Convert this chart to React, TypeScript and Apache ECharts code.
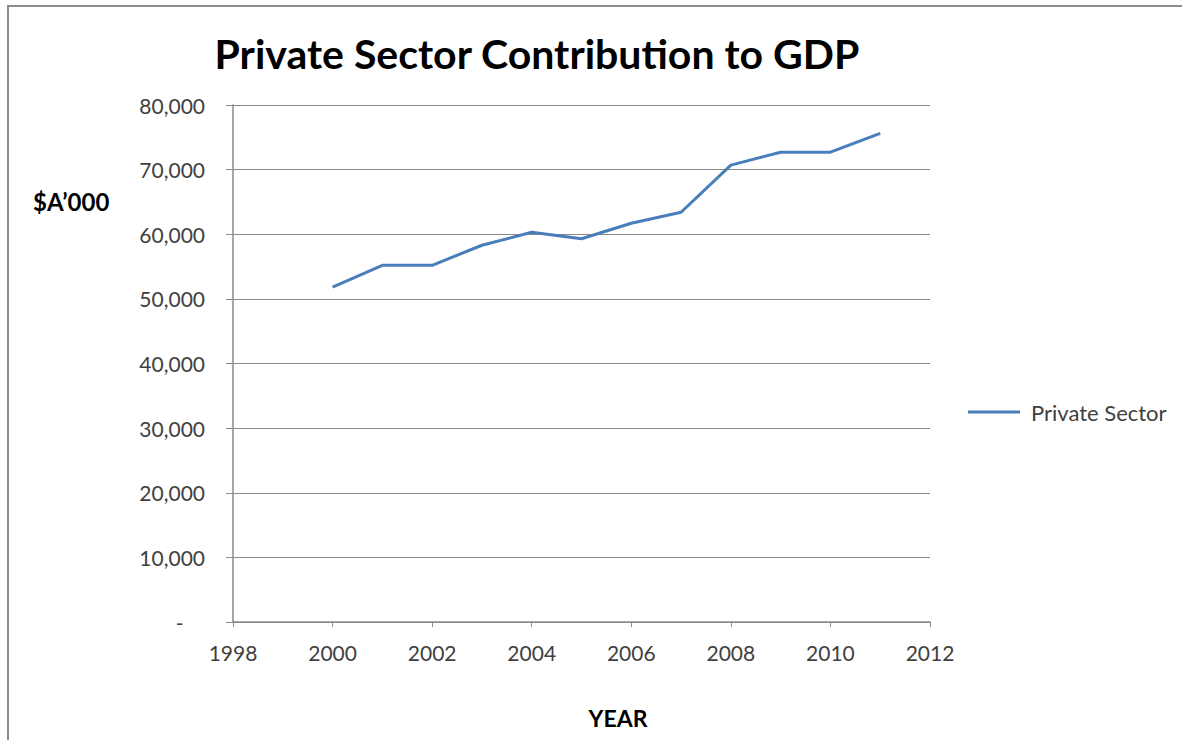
import React, { useEffect, useRef } from "react";
import * as echarts from "echarts";

const years = [2000, 2001, 2002, 2003, 2004, 2005, 2006, 2007, 2008, 2009, 2010, 2011];
const privateSector = [51800, 55200, 55200, 58300, 60300, 59300, 61700, 63400, 70700, 72700, 72700, 75600];
const seriesName = "Private Sector";
const titleText = "Private Sector Contribution to GDP";
const yAxisTitle = "$A\u2019000";
const xAxisTitle = "YEAR";

const FONT = "Lato, 'Open Sans', sans-serif";

export default function App() {
  const ref = useRef<HTMLDivElement>(null);
  useEffect(() => {
    if (!ref.current) return;
    const chart = echarts.init(ref.current, undefined, { renderer: "svg" });
    chart.setOption({
      animation: false,
      backgroundColor: "#ffffff",
      textStyle: { fontFamily: FONT },
      grid: { left: 233, right: 252, top: 105, bottom: 118, containLabel: false },
      xAxis: {
        type: "value",
        min: 1998,
        max: 2012,
        interval: 2,
        axisLine: { show: true, lineStyle: { color: "#8a8a8a", width: 1.5 } },
        axisTick: { show: true, length: 5, lineStyle: { color: "#8a8a8a" } },
        splitLine: { show: false },
        axisLabel: { color: "#404040", fontSize: 21, margin: 20, fontFamily: FONT, formatter: (v: number) => String(v) },
      },
      yAxis: {
        type: "value",
        min: 0,
        max: 80000,
        interval: 10000,
        axisLine: { show: true, lineStyle: { color: "#8a8a8a", width: 1.5 } },
        axisTick: { show: true, length: 7, lineStyle: { color: "#8a8a8a" } },
        splitLine: { show: true, lineStyle: { color: "#8a8a8a", width: 1 } },
        axisLabel: {
          color: "#404040",
          fontSize: 21,
          margin: 28,
          fontFamily: FONT,
          formatter: (v: number) => (v === 0 ? "-\u00a0\u00a0\u00a0\u00a0" : v.toLocaleString("en-US")),
        },
      },
      legend: {
        show: true,
        left: 963,
        top: 396,
        orient: "vertical",
        icon: "rect",
        itemWidth: 52,
        itemHeight: 3,
        itemGap: 10,
        textStyle: { color: "#404040", fontSize: 22, fontFamily: FONT, padding: [0, 0, 0, 6] },
        data: [seriesName],
      },
      series: [
        {
          name: seriesName,
          type: "line",
          data: years.map((y, i) => [y, privateSector[i]]),
          symbol: "none",
          lineStyle: { color: "#4a7ebb", width: 3 },
          itemStyle: { color: "#4a7ebb" },
        },
      ],
      graphic: [
        {
          type: "rect",
          shape: { x: 8, y: 6, width: 1300, height: 900 },
          style: { fill: "none", stroke: "#8c8c8c", lineWidth: 2 },
          silent: true,
        },
        {
          type: "text",
          x: 537,
          y: 53,
          style: {
            text: titleText,
            fontSize: 41,
            fontWeight: "bold",
            fontFamily: FONT,
            fill: "#000000",
            align: "center",
            verticalAlign: "middle",
          },
        },
        {
          type: "text",
          x: 33,
          y: 201,
          style: {
            text: yAxisTitle,
            fontSize: 24,
            fontWeight: "bold",
            fontFamily: FONT,
            fill: "#000000",
            align: "left",
            verticalAlign: "middle",
          },
        },
        {
          type: "text",
          x: 618,
          y: 718,
          style: {
            text: xAxisTitle,
            fontSize: 23,
            fontWeight: "bold",
            fontFamily: FONT,
            fill: "#000000",
            align: "center",
            verticalAlign: "middle",
          },
        },
      ],
    });
    return () => chart.dispose();
  }, []);
  return (
    <div
      ref={ref}
      style={{ position: "fixed", left: 0, top: 0, width: 1182, height: 740, background: "#fff" }}
    />
  );
}
